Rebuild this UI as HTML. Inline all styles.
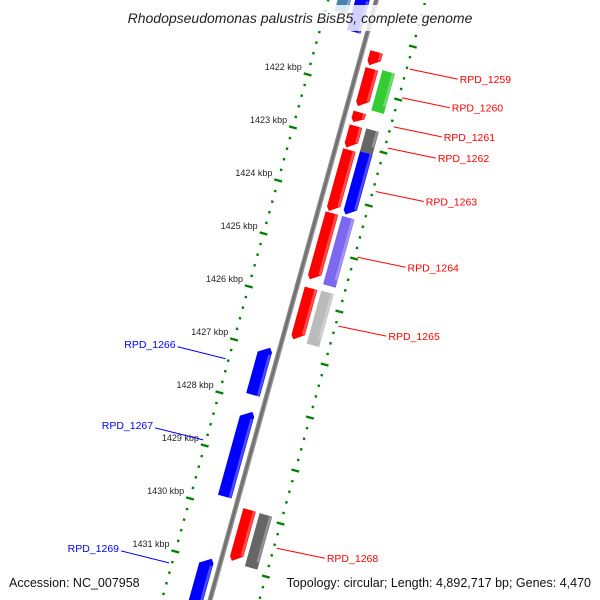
<!DOCTYPE html>
<html><head><meta charset="utf-8"><style>
html,body{margin:0;padding:0;background:#fff}
svg{display:block;font-family:"Liberation Sans","DejaVu Sans",sans-serif}
</style></head><body>
<svg id="map" width="600" height="600" viewBox="0 0 600 600" xmlns="http://www.w3.org/2000/svg">
<defs>
<linearGradient id="bb" x1="0" x2="1"><stop offset="0" stop-color="#999"/><stop offset="0.5" stop-color="#666"/><stop offset="1" stop-color="#aaa"/></linearGradient>
</defs>
<g id="rot" transform="translate(377,0) rotate(15.5)">
<rect x="-3" y="-50" width="5" height="750" fill="url(#bb)"/>
<g id="ticks"></g>
<g id="feats"></g>
</g>
<g id="ticklabels"></g>
<g id="labels"></g>
<rect x="100" y="5" width="400" height="26" fill="#fff" opacity="0.82"/>
<text x="300" y="23" text-anchor="middle" font-size="14" font-style="italic" fill="#222">Rhodopseudomonas palustris BisB5, complete genome</text>
<text x="9" y="587" font-size="12.5" fill="#111">Accession: NC_007958</text>
<text x="591" y="587" font-size="12.5" text-anchor="end" fill="#111">Topology: circular; Length: 4,892,717 bp; Genes: 4,470</text>
</svg>
<script>
// data
const tickKbp = [1422,1423,1424,1425,1426,1427,1428,1429,1430,1431];
const tickLabels = ["1422 kbp","1423 kbp","1424 kbp","1425 kbp","1426 kbp","1427 kbp","1428 kbp","1429 kbp","1430 kbp","1431 kbp"];
const featNames = ["RPD_1259a","RPD_1259","RPD_1261a","RPD_1261","RPD_1263a","RPD_1264a","RPD_1265a","RPD_1268a","RPD_1260","RPD_1262","RPD_1263","RPD_1264","RPD_1265","RPD_1268","RPD_1266","RPD_1267","RPD_1269","top-rev","top-rev-outer"];
const featStart = [1421.27,1421.59,1422.41,1422.67,1423.12,1424.31,1425.73,1429.91,1421.56,1422.66,1423.09,1424.31,1425.72,1429.92,1426.97,1428.18,1430.95,1420.3,1420.2];
const featEnd   = [1421.54,1422.31,1422.61,1423.09,1424.29,1425.58,1426.71,1430.89,1422.32,1423.09,1424.27,1425.60,1426.72,1430.92,1427.88,1429.80,1431.9,1421.03,1420.75];
const featRing  = [1,1,1,1,1,1,1,1,2,2,2,2,2,2,-1,-1,-1,-1,-2];
const featColor = ["#f00","#f00","#f00","#f00","#f00","#f00","#f00","#f00","#33cc33","#666","#0000ff","#7b68ee","#bbb","#666","#0000ff","#0000ff","#0000ff","#0000ff","#4682b4"];
const labelText = ["RPD_1259","RPD_1260","RPD_1261","RPD_1262","RPD_1263","RPD_1264","RPD_1265","RPD_1268","RPD_1266","RPD_1267","RPD_1269"];
const labelKbp  = [1421.41,1421.95,1422.50,1422.90,1423.72,1424.96,1426.26,1430.45,1427.38,1428.91,1431.23];
const labelSide = [1,1,1,1,1,1,1,1,-1,-1,-1];

const NS="http://www.w3.org/2000/svg";
const C=Math.cos(15.5*Math.PI/180), S=Math.sin(15.5*Math.PI/180);
function vOf(k){return 90.3+55*(k-1422);}
function toScreen(u,v){return [377+u*C-v*S, u*S+v*C];}
function mk(tag,attrs,parent){const e=document.createElementNS(NS,tag);for(const k in attrs)e.setAttribute(k,attrs[k]);parent.appendChild(e);return e;}
const ticks=document.getElementById('ticks'), feats=document.getElementById('feats'), labels=document.getElementById('labels'), tlab=document.getElementById('ticklabels');

// ticks: two dotted rings
[-47,47].forEach(function(u){
  for(let k=1420*5;k<=1432*5;k++){
    const v=vOf(k/5), major=(k%5===0);
    const r=mk('rect',{x:major?u-4:u-1.2,y:v-1.2,width:major?8:2.4,height:2.4,fill:'#008000'},ticks);
    
    
  }
});
tickKbp.forEach(function(k,i){
  const p=toScreen(-53,vOf(k));
  const t=mk('text',{x:p[0],y:p[1]-3,'font-size':'9','text-anchor':'end',fill:'#222'},tlab);
  
  
  t.textContent=tickLabels[i];
});

// features
const ringU={1:[7,20],2:[24,37],'-1':[-21,-7],'-2':[-38,-25]};
featNames.forEach(function(n,i){
  const uu=ringU[featRing[i]], a=uu[0], b=uu[1];
  const v1=vOf(featStart[i]), v2=vOf(featEnd[i]);
  const fwd=featRing[i]>0, arrow=featColor[i]==='#f00'||featColor[i]==='#0000ff';
  const h=Math.min(7,(v2-v1)*0.5);
  let pts;
  if(!arrow) pts=[[a,v1],[b,v1],[b,v2],[a,v2]];
  else if(fwd) pts=[[a,v1],[b,v1],[b,v2-h],[a+3,v2],[a,v2-h*0.6]];
  else pts=[[a,v2],[b,v2],[b,v1+h*0.6],[b-3,v1],[a,v1+h]];
  const g=mk('g',{},feats);
  
  
  mk('polygon',{points:pts.map(p=>p.join(',')).join(' '),fill:featColor[i]},g);
  const hl=mk('rect',{x:b-3,y:v1+(fwd?0:h),width:2.5,height:Math.max(0,v2-v1-h),fill:'#fff',opacity:'0.3'},g);
  
  
});

// labels
labelText.forEach(function(t,i){
  const v=vOf(labelKbp[i]), side=labelSide[i];
  const p1=toScreen(side>0?50:-50,v);
  const x2=p1[0]+side*48, y2=side>0?p1[1]+10:p1[1]-12;
  const col=side>0?'#f00':'#0000ff';
  const ln=mk('line',{x1:p1[0],y1:p1[1],x2:x2,y2:y2,stroke:col,'stroke-width':1},labels);
  
  
  const tx=mk('text',{x:x2+side*2,y:side>0?y2+4:y2+1,'font-size':'10.5',fill:col,'text-anchor':side>0?'start':'end'},labels);
  
  
  tx.textContent=t;
});
</script>
</body></html>
